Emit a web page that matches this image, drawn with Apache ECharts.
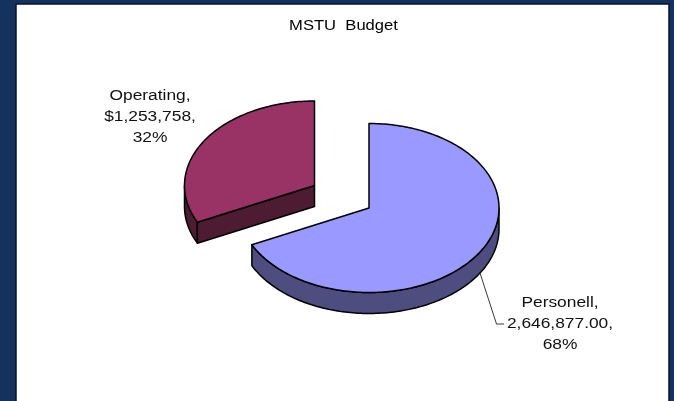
<!DOCTYPE html>
<html><head><meta charset="utf-8">
<style>html,body{margin:0;padding:0;background:#15325f}#c{width:674px;height:401px}</style>
<script src="https://cdn.jsdelivr.net/npm/echarts@6/dist/echarts.min.js"></script>
</head><body><div id="c"></div>
<script>
const titleText = 'MSTU  Budget';
const categories = ['Personell', 'Operating'];
const values = [2646877, 1253758];
const amountLabels = ['2,646,877.00', '$1,253,758'];
const percentLabels = ['68%', '32%'];
const topColors = ['#9999ff', '#993366'];
const sideColors = ['#4d4d80', '#4d1c33'];
const apexes = [[369, 208], [314.5, 185.5]];
const labelCenters = [[560, 324], [150, 117]];
const RX = 130, RY = 84.5, DEPTH = 21;
const FONT = '"Liberation Sans", Arial, sans-serif';

const total = values.reduce((a, b) => a + b, 0);
const chart = echarts.init(document.getElementById('c'), null, {renderer: 'canvas'});
const pt = (c, t, d) => [c[0] + RX * Math.sin(t), c[1] - RY * Math.cos(t) + (d || 0)];
function arc(c, a, b, d) {
  const n = Math.max(2, Math.ceil(Math.abs(b - a) / 0.02)), out = [];
  for (let i = 0; i <= n; i++) out.push(pt(c, a + (b - a) * i / n, d));
  return out;
}
const lineStyle = {stroke: '#000', lineWidth: 1.5, lineJoin: 'round'};
const poly = (points, fill) => ({type: 'polygon', shape: {points}, style: {fill, ...lineStyle}});

function renderItem(params, api) {
  const i = params.dataIndex;
  let start = 0;
  for (let k = 0; k < i; k++) start += values[k];
  const a0 = start / total * 2 * Math.PI;
  const a1 = (start + api.value(0)) / total * 2 * Math.PI;
  const c = apexes[i], children = [];
  const w0 = Math.max(a0, Math.PI / 2), w1 = Math.min(a1, 1.5 * Math.PI);
  if (w1 > w0) {
    children.push(poly(arc(c, w0, w1, 0).concat(arc(c, w1, w0, DEPTH)), sideColors[i]));
  }
  if (a0 > Math.PI) {
    const r = pt(c, a0, 0);
    children.push(poly([c, r, [r[0], r[1] + DEPTH], [c[0], c[1] + DEPTH]], sideColors[i]));
  }
  children.push(poly([c].concat(arc(c, a0, a1, 0)), topColors[i]));
  children.push({
    type: 'text',
    x: labelCenters[i][0], y: labelCenters[i][1],
    scaleX: 1.24,
    style: {
      x: 0, y: 0,
      text: categories[i] + ',\n' + amountLabels[i] + ',\n' + percentLabels[i],
      align: 'center', verticalAlign: 'middle',
      font: '14px ' + FONT, lineHeight: 20.7, fill: '#111'
    }
  });
  return {type: 'group', children};
}

chart.setOption({
  animation: false,
  backgroundColor: '#15325f',
  graphic: [
    {type: 'rect', z: -1, shape: {x: 16, y: 4, width: 653, height: 400},
     style: {fill: '#fff', stroke: '#0a1428', lineWidth: 1.5}},
    {type: 'text', z: 5, x: 343.5, y: 26, scaleX: 1.185,
     style: {x: 0, y: 0, text: titleText, align: 'center', verticalAlign: 'middle',
             font: '14px ' + FONT, fill: '#000'}},
    {type: 'polyline', z: 5, shape: {points: [[480, 273], [496.5, 324], [504, 324]]},
     style: {stroke: '#222', lineWidth: 0.9, fill: null}}
  ],
  series: [{
    type: 'custom', coordinateSystem: 'none', renderItem,
    data: values.map(v => [v]),
    encode: {value: 0}, silent: true
  }]
});
</script></body></html>
